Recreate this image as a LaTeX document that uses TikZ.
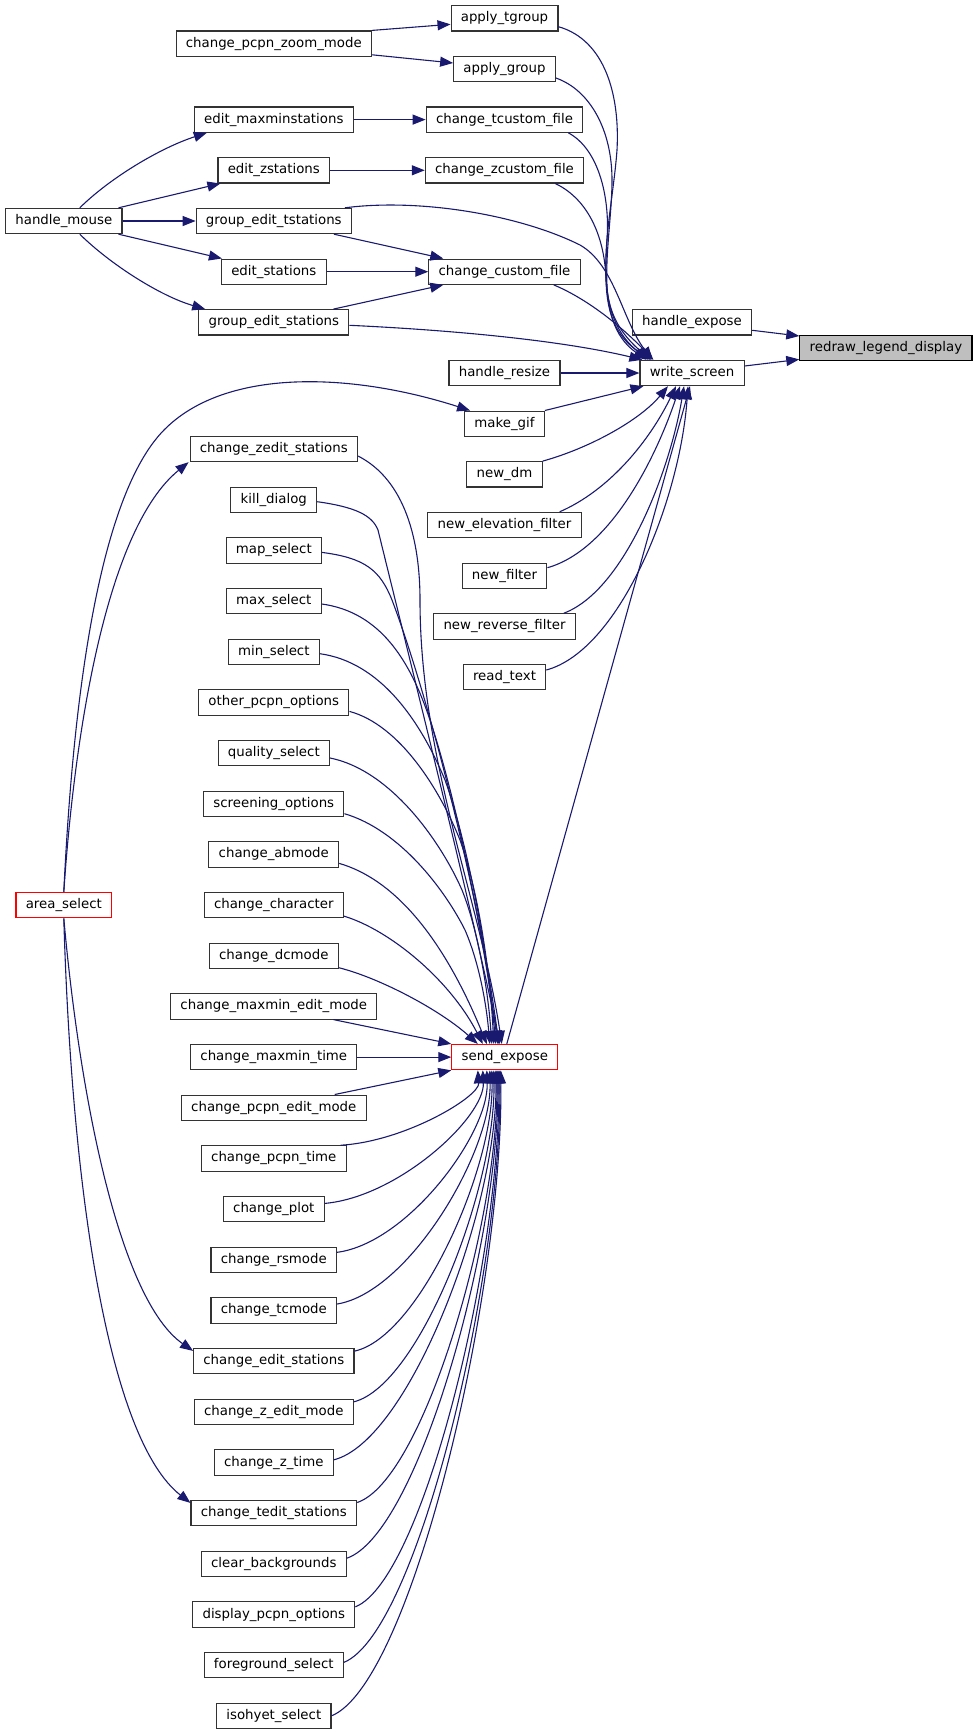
\documentclass[tikz,border=0pt]{standalone}
\usepackage{fontspec}
\setmainfont{DejaVu Sans}
\usetikzlibrary{arrows.meta,calc}
\definecolor{edgeblue}{HTML}{191970}
\definecolor{boxgray}{HTML}{333333}
\definecolor{legendgray}{HTML}{BFBFBF}
\newcommand\upedge[2]{\draw[edge] let \p1=(#1), \p2=([xshift=#2]se.south), \n1={abs(\y2-\y1)} in (\p1) .. controls ({\x1+0.47*(\x2-\x1)},{\y1+0.05*\n1}) and ({\x2+2},{\y2-0.35*\n1}) .. (\p2);}
\begin{document}
\begin{tikzpicture}[x=1pt,y=1pt,
 fn/.style={draw=boxgray, line width=1.1pt, fill=white, font=\fontsize{13.33}{16}\selectfont, minimum height=25.3pt, inner xsep=9.8pt, inner ysep=0pt, text height=10pt, text depth=3pt},
 redfn/.style={fn, draw=red},
 curfn/.style={fn, fill=legendgray, draw=black},
 edge/.style={draw=edgeblue, line width=1.1pt, -{Triangle[length=13pt,width=10pt]}}]
\useasboundingbox (0,0) rectangle (977,-1735);
% nodes
\node[fn] (atg) at (504.5,-18.3) {apply\_tgroup};
\node[fn] (cpzm) at (273.8,-43.6) {change\_pcpn\_zoom\_mode};
\node[fn] (ag) at (504.5,-69.0) {apply\_group};
\node[fn] (emm) at (273.8,-119.6) {edit\_maxminstations};
\node[fn] (tcf) at (504.5,-119.6) {change\_tcustom\_file};
\node[fn] (ezs) at (273.8,-170.3) {edit\_zstations};
\node[fn] (zcf) at (504.5,-170.3) {change\_zcustom\_file};
\node[fn] (hm) at (63.8,-221.0) {handle\_mouse};
\node[fn] (gets) at (273.8,-221.0) {group\_edit\_tstations};
\node[fn] (es) at (273.8,-271.7) {edit\_stations};
\node[fn] (ccf) at (504.5,-271.7) {change\_custom\_file};
\node[fn] (ges) at (273.8,-322.3) {group\_edit\_stations};
\node[fn] (he) at (692,-322.3) {handle\_expose};
\node[curfn] (rld) at (885.9,-347.7) {redraw\_legend\_display};
\node[fn] (hr) at (504.5,-373.0) {handle\_resize};
\node[fn] (ws) at (692,-373.0) {write\_screen};
\node[fn] (mg) at (504.5,-423.7) {make\_gif};
\node[fn] (czs) at (273.8,-449.0) {change\_zedit\_stations};
\node[fn] (nd) at (504.5,-474.3) {new\_dm};
\node[fn] (kd) at (273.8,-499.7) {kill\_dialog};
\node[fn] (nef) at (504.5,-525.0) {new\_elevation\_filter};
\node[fn] (ms) at (273.8,-550.4) {map\_select};
\node[fn] (nf) at (504.5,-575.7) {new\_filter};
\node[fn] (xs) at (273.8,-601.0) {max\_select};
\node[fn] (nrf) at (504.5,-626.4) {new\_reverse\_filter};
\node[fn] (ns) at (273.8,-651.7) {min\_select};
\node[fn] (rt) at (504.5,-677.0) {read\_text};
\node[fn] (opo) at (273.8,-702.4) {other\_pcpn\_options};
\node[fn] (qs) at (273.8,-753.0) {quality\_select};
\node[fn] (so) at (273.8,-803.7) {screening\_options};
\node[fn] (cab) at (273.8,-854.4) {change\_abmode};
\node[redfn] (as) at (63.8,-905.1) {area\_select};
\node[fn] (cch) at (273.8,-905.1) {change\_character};
\node[fn] (cdc) at (273.8,-955.7) {change\_dcmode};
\node[fn] (cmem) at (273.8,-1006.4) {change\_maxmin\_edit\_mode};
\node[fn] (cmt) at (273.8,-1057.1) {change\_maxmin\_time};
\node[redfn] (se) at (504.8,-1057.1) {send\_expose};
\node[fn] (cpem) at (273.8,-1107.7) {change\_pcpn\_edit\_mode};
\node[fn] (cpt) at (273.8,-1158.4) {change\_pcpn\_time};
\node[fn] (cpl) at (273.8,-1209.1) {change\_plot};
\node[fn] (crs) at (273.8,-1259.8) {change\_rsmode};
\node[fn] (ctc) at (273.8,-1310.4) {change\_tcmode};
\node[fn] (ces) at (273.8,-1361.1) {change\_edit\_stations};
\node[fn] (czem) at (273.8,-1411.8) {change\_z\_edit\_mode};
\node[fn] (czt) at (273.8,-1462.5) {change\_z\_time};
\node[fn] (cts) at (273.8,-1513.1) {change\_tedit\_stations};
\node[fn] (cbg) at (273.8,-1563.8) {clear\_backgrounds};
\node[fn] (dpo) at (273.8,-1614.5) {display\_pcpn\_options};
\node[fn] (fgs) at (273.8,-1665.1) {foreground\_select};
\node[fn] (ihs) at (273.8,-1715.8) {isohyet\_select};
% top edges
\draw[edge] (cpzm.north east) -- ([yshift=-6pt]atg.west);
\draw[edge] ([yshift=2pt]cpzm.south east) -- ([yshift=6pt]ag.west);
\draw[edge] (emm.east) -- (tcf.west);
\draw[edge] (ezs.east) -- (zcf.west);
\draw[edge] ([xshift=16pt]hm.north) .. controls (110,-178) and (160,-148) .. ([xshift=13pt]emm.south west);
\draw[edge] ([xshift=-4pt]hm.north east) -- ([xshift=3pt]ezs.south west);
\draw[edge] (hm.east) -- (gets.west);
\draw[edge] ([xshift=-4pt]hm.south east) -- ([xshift=1pt]es.north west);
\draw[edge] ([xshift=16pt]hm.south) .. controls (110,-264) and (160,-296) .. ([xshift=7pt]ges.north west);
\draw[edge] ([xshift=-18pt]gets.south east) -- ([xshift=15pt]ccf.north west);
\draw[edge] (es.east) -- (ccf.west);
\draw[edge] ([xshift=-16pt]ges.north east) -- ([xshift=15pt]ccf.south west);
% to redraw_legend_display
\draw[edge] ([yshift=-8pt]he.east) -- ([yshift=-1.5pt]rld.north west);
\draw[edge] ([yshift=7pt]ws.east) -- ([yshift=1.5pt]rld.south west);
% to write_screen
\draw[edge] ([yshift=-8.4pt]atg.east) .. controls (605,-40) and (620,-95) .. (617,-150) .. controls (612,-220) and (585,-310) .. ([xshift=9pt]ws.north west);
\draw[edge] ([yshift=-9pt]ag.east) .. controls (590,-90) and (612,-130) .. (612,-180) .. controls (612,-240) and (590,-320) .. ([xshift=7pt]ws.north west);
\draw[edge] ([xshift=-15pt]tcf.south east) .. controls (600,-150) and (610,-200) .. (607,-240) .. controls (604,-290) and (605,-320) .. ([xshift=11pt]ws.north west);
\draw[edge] ([xshift=-29pt]zcf.south east) .. controls (590,-200) and (605,-240) .. (606,-280) .. controls (607,-320) and (620,-340) .. ([xshift=12pt]ws.north west);
\draw[edge] ([xshift=-7pt]gets.north east) .. controls (420,-198) and (520,-215) .. (580,-245) .. controls (615,-265) and (622,-320) .. ([xshift=13pt]ws.north west);
\draw[edge] ([xshift=-27pt]ccf.south east) .. controls (590,-300) and (625,-330) .. ([xshift=14pt]ws.north west);
\draw[edge] ([yshift=-3pt]ges.east) .. controls (450,-330) and (560,-340) .. ([xshift=3pt]ws.north west);
\draw[edge] (hr.east) -- (ws.west);
\draw[edge] (mg.north east) -- ([xshift=4pt]ws.south west);
\draw[edge] (nd.north east) .. controls (590,-448) and (640,-420) .. ([xshift=-24pt]ws.south);
\draw[edge] ([xshift=-22pt]nef.north east) .. controls (610,-490) and (650,-440) .. ([xshift=-16pt]ws.south);
\draw[edge] ([yshift=8pt]nf.east) .. controls (610,-550) and (655,-460) .. ([xshift=-12pt]ws.south);
\draw[edge] ([xshift=-12pt]nrf.north east) .. controls (625,-590) and (670,-470) .. ([xshift=-8pt]ws.south);
\draw[edge] ([yshift=7pt]rt.east) .. controls (620,-650) and (680,-500) .. ([xshift=-4pt]ws.south);
\draw[edge] ([xshift=2pt]se.north) -- ([xshift=-2pt]ws.south);
% area_select
\draw[edge] (as.north) .. controls (72,-720) and (95,-500) .. (164,-430) .. controls (225,-368) and (350,-372) .. ([xshift=6pt]mg.north west);
\draw[edge] (as.north) .. controls (74,-740) and (105,-530) .. ([xshift=-1pt]czs.south west);
\draw[edge] (as.south) .. controls (80,-1100) and (120,-1300) .. ([yshift=-3pt]ces.north west);
\draw[edge] (as.south) .. controls (72,-1200) and (110,-1440) .. ([yshift=-3pt]cts.north west);
% to send_expose from above
\draw[edge] ([yshift=-7pt]czs.east) .. controls (405,-480) and (420,-540) .. (420,-600) .. controls (420,-760) and (480,-900) .. ([xshift=-3pt]se.north);
\draw[edge] ([yshift=-2pt]kd.east) .. controls (355,-507) and (372,-515) .. (378,-530) .. controls (400,-620) and (470,-900) .. ([xshift=-5pt]se.north);
\draw[edge] ([yshift=-2pt]ms.east) .. controls (365,-558) and (380,-570) .. (392,-600) .. controls (430,-700) and (480,-900) .. ([xshift=-6pt]se.north);
\draw[edge] ([yshift=-3pt]xs.east) .. controls (380,-612) and (410,-660) .. (430,-720) .. controls (460,-810) and (485,-950) .. ([xshift=-7pt]se.north);
\draw[edge] ([yshift=-2pt]ns.east) .. controls (380,-662) and (420,-720) .. (445,-780) .. controls (470,-850) and (488,-960) .. ([xshift=-9pt]se.north);
\draw[edge] ([yshift=-9pt]opo.east) .. controls (400,-725) and (440,-790) .. (460,-840) .. controls (478,-890) and (490,-970) .. ([xshift=-11pt]se.north);
\draw[edge] ([yshift=-5pt]qs.east) .. controls (390,-770) and (440,-840) .. (462,-890) .. controls (478,-930) and (488,-990) .. ([xshift=-13pt]se.north);
\draw[edge] ([yshift=-10pt]so.east) .. controls (400,-830) and (445,-890) .. (465,-930) .. controls (478,-960) and (486,-1000) .. ([xshift=-15pt]se.north);
\draw[edge] ([yshift=-9pt]cab.east) .. controls (390,-878) and (440,-930) .. ([xshift=-18pt]se.north);
\draw[edge] ([yshift=-11pt]cch.east) .. controls (390,-930) and (450,-980) .. ([xshift=-22pt]se.north);
\draw[edge] ([yshift=-12pt]cdc.east) .. controls (380,-978) and (440,-1010) .. ([xshift=-27pt]se.north);
\draw[edge] ([xshift=-44pt]cmem.south east) -- (se.north west);
\draw[edge] (cmt.east) -- (se.west);
\draw[edge] ([xshift=-32pt]cpem.north east) -- (se.south west);
% to send_expose from below
\upedge{[xshift=-6pt]cpt.north east}{-27pt}
\upedge{[yshift=5.7pt]cpl.east}{-22pt}
\upedge{[yshift=7.5pt]crs.east}{-18pt}
\upedge{[yshift=6.4pt]ctc.east}{-15pt}
\upedge{[yshift=10pt]ces.east}{-13pt}
\upedge{[yshift=10pt]czem.east}{-11pt}
\upedge{[yshift=2.7pt]czt.east}{-9pt}
\upedge{[yshift=10.6pt]cts.east}{-8pt}
\upedge{[yshift=5.6pt]cbg.east}{-7pt}
\upedge{[yshift=7.7pt]dpo.east}{-6pt}
\upedge{[yshift=2.8pt]fgs.east}{-5pt}
\upedge{ihs.east}{-4pt}
\end{tikzpicture}
\end{document}
